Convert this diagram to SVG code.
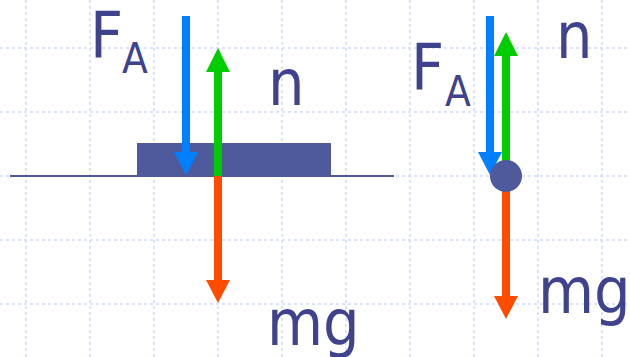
<svg xmlns="http://www.w3.org/2000/svg" width="630" height="357" viewBox="0 0 630 357">
<defs>
<style>
.grid line{stroke:#d0dafb;stroke-width:1.5;stroke-dasharray:3 3}
.lbl{font-family:"DejaVu Sans Condensed","DejaVu Sans",sans-serif;font-stretch:condensed;fill:#3f428d;font-size:64px}
.sub{font-size:42px}
.body{fill:#4f5a9c}
.blue{fill:#0080ff}
.green{fill:#00cc00}
.orange{fill:#ff4c00}
</style>
</defs>
<rect width="630" height="357" fill="#ffffff"/>
<g class="grid">
<line x1="26" y1="0" x2="26" y2="357"/>
<line x1="90" y1="0" x2="90" y2="357"/>
<line x1="154" y1="0" x2="154" y2="357"/>
<line x1="218" y1="0" x2="218" y2="357"/>
<line x1="282" y1="0" x2="282" y2="357"/>
<line x1="346" y1="0" x2="346" y2="357"/>
<line x1="410" y1="0" x2="410" y2="357"/>
<line x1="474" y1="0" x2="474" y2="357"/>
<line x1="538" y1="0" x2="538" y2="357"/>
<line x1="602" y1="0" x2="602" y2="357"/>
<line x1="0" y1="48" x2="630" y2="48"/>
<line x1="0" y1="112" x2="630" y2="112"/>
<line x1="0" y1="176" x2="630" y2="176"/>
<line x1="0" y1="240" x2="630" y2="240"/>
<line x1="0" y1="304" x2="630" y2="304"/>
</g>
<g id="ground">
<line x1="10" y1="176" x2="394" y2="176" stroke="#4f5a9c" stroke-width="2"/>
</g>
<g id="block">
<rect class="body" x="137" y="143" width="194" height="33"/>
</g>
<g id="connectors">
<g id="left-FA">
<rect class="blue" x="182" y="16" width="8" height="137"/>
<polygon class="blue" points="174,152 198,152 186,175"/>
</g>
<g id="left-n">
<rect class="green" x="214" y="71" width="8" height="105"/>
<polygon class="green" points="206,72 230,72 218,48"/>
</g>
<g id="left-mg">
<rect class="orange" x="214" y="176" width="8" height="105"/>
<polygon class="orange" points="206,280 230,280 218,303"/>
</g>
<g id="right-FA">
<rect class="blue" x="486" y="16" width="8" height="137"/>
<polygon class="blue" points="478,152 502,152 490,175"/>
</g>
<g id="right-n">
<rect class="green" x="502" y="55" width="8" height="121"/>
<polygon class="green" points="494,56 518,56 506,32"/>
</g>
<g id="right-mg">
<rect class="orange" x="502" y="186" width="8" height="111"/>
<polygon class="orange" points="494,296 518,296 506,319"/>
</g>
</g>
<g id="particle">
<circle class="body" cx="506" cy="176" r="16"/>
</g>
<g id="labels-left">
<text class="lbl" x="90" y="57">F</text>
<text class="lbl sub" x="122" y="73">A</text>
<text class="lbl" x="268" y="105">n</text>
<text class="lbl" x="267" y="345">mg</text>
</g>
<g id="labels-right">
<text class="lbl" x="411" y="89">F</text>
<text class="lbl sub" x="445" y="106">A</text>
<text class="lbl" x="556" y="58">n</text>
<text class="lbl" x="538" y="313">mg</text>
</g>
</svg>
